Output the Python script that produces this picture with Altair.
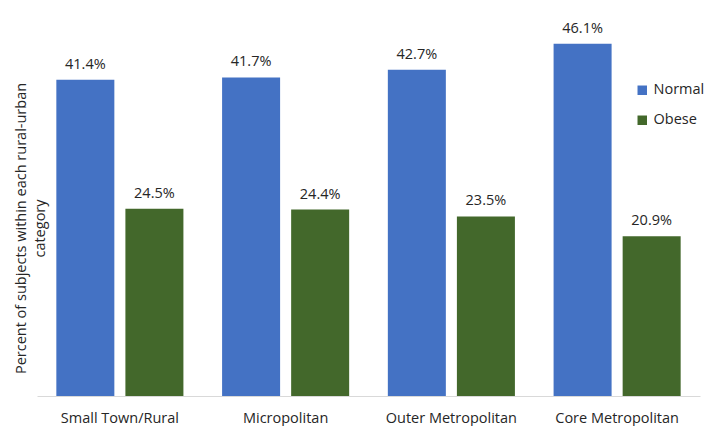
import altair as alt
import pandas as pd

categories = ["Small Town/Rural", "Micropolitan", "Outer Metropolitan", "Core Metropolitan"]
normal = [41.4, 41.7, 42.7, 46.1]
obese = [24.5, 24.4, 23.5, 20.9]
series = ["Normal", "Obese"]
colors = ["#4472C4", "#43682B"]

rows = []
for c, n, o in zip(categories, normal, obese):
    rows.append({"cat": c, "series": "Normal", "value": n})
    rows.append({"cat": c, "series": "Obese", "value": o})
df = pd.DataFrame(rows)
df["label"] = df["value"].map(lambda v: f"{v:.1f}%")

FONT = "Open Sans"
FS = 14.5

x = alt.X("cat:N", sort=categories,
          scale=alt.Scale(paddingInner=0, paddingOuter=0),
          axis=alt.Axis(title=None, labelAngle=0, ticks=False, domainColor="#d9d9d9",
                        labelFont=FONT, labelFontSize=FS, labelColor="#262626",
                        labelPadding=15))
xo = alt.XOffset("series:N", sort=series,
                 scale=alt.Scale(paddingInner=0.16, paddingOuter=0.28))
y = alt.Y("value:Q", scale=alt.Scale(domain=[0, 50], nice=False),
          axis=alt.Axis(title=["Percent of subjects within each rural-urban", "category"],
                        labels=False, ticks=False, domain=False, grid=False,
                        titleFont=FONT, titleFontSize=FS, titleFontWeight="normal",
                        titleColor="#262626", titleX=-9, titleY=214, titleLineHeight=19))

bars = alt.Chart(df).mark_bar().encode(
    x=x, xOffset=xo, y=y,
    color=alt.Color("series:N", sort=series,
                    scale=alt.Scale(domain=series, range=colors),
                    legend=alt.Legend(title=None, orient="none", legendX=598, legendY=69,
                                      symbolType="square", symbolSize=90,
                                      labelFont=FONT, labelFontSize=FS, labelColor="#262626",
                                      rowPadding=15, symbolStrokeWidth=0)),
)

text = alt.Chart(df).mark_text(dy=-15, font=FONT, fontSize=FS, color="#262626").encode(
    x=x, xOffset=xo, y=y, text="label:N"
)

chart = (bars + text).properties(
    width=663, height=382,
    autosize=alt.AutoSizeParams(type="none"),
    padding={"left": 29, "top": 6, "right": 8, "bottom": 30},
).configure_view(stroke=None)

chart.save("out.html", embed_options={"renderer": "svg", "actions": False})
